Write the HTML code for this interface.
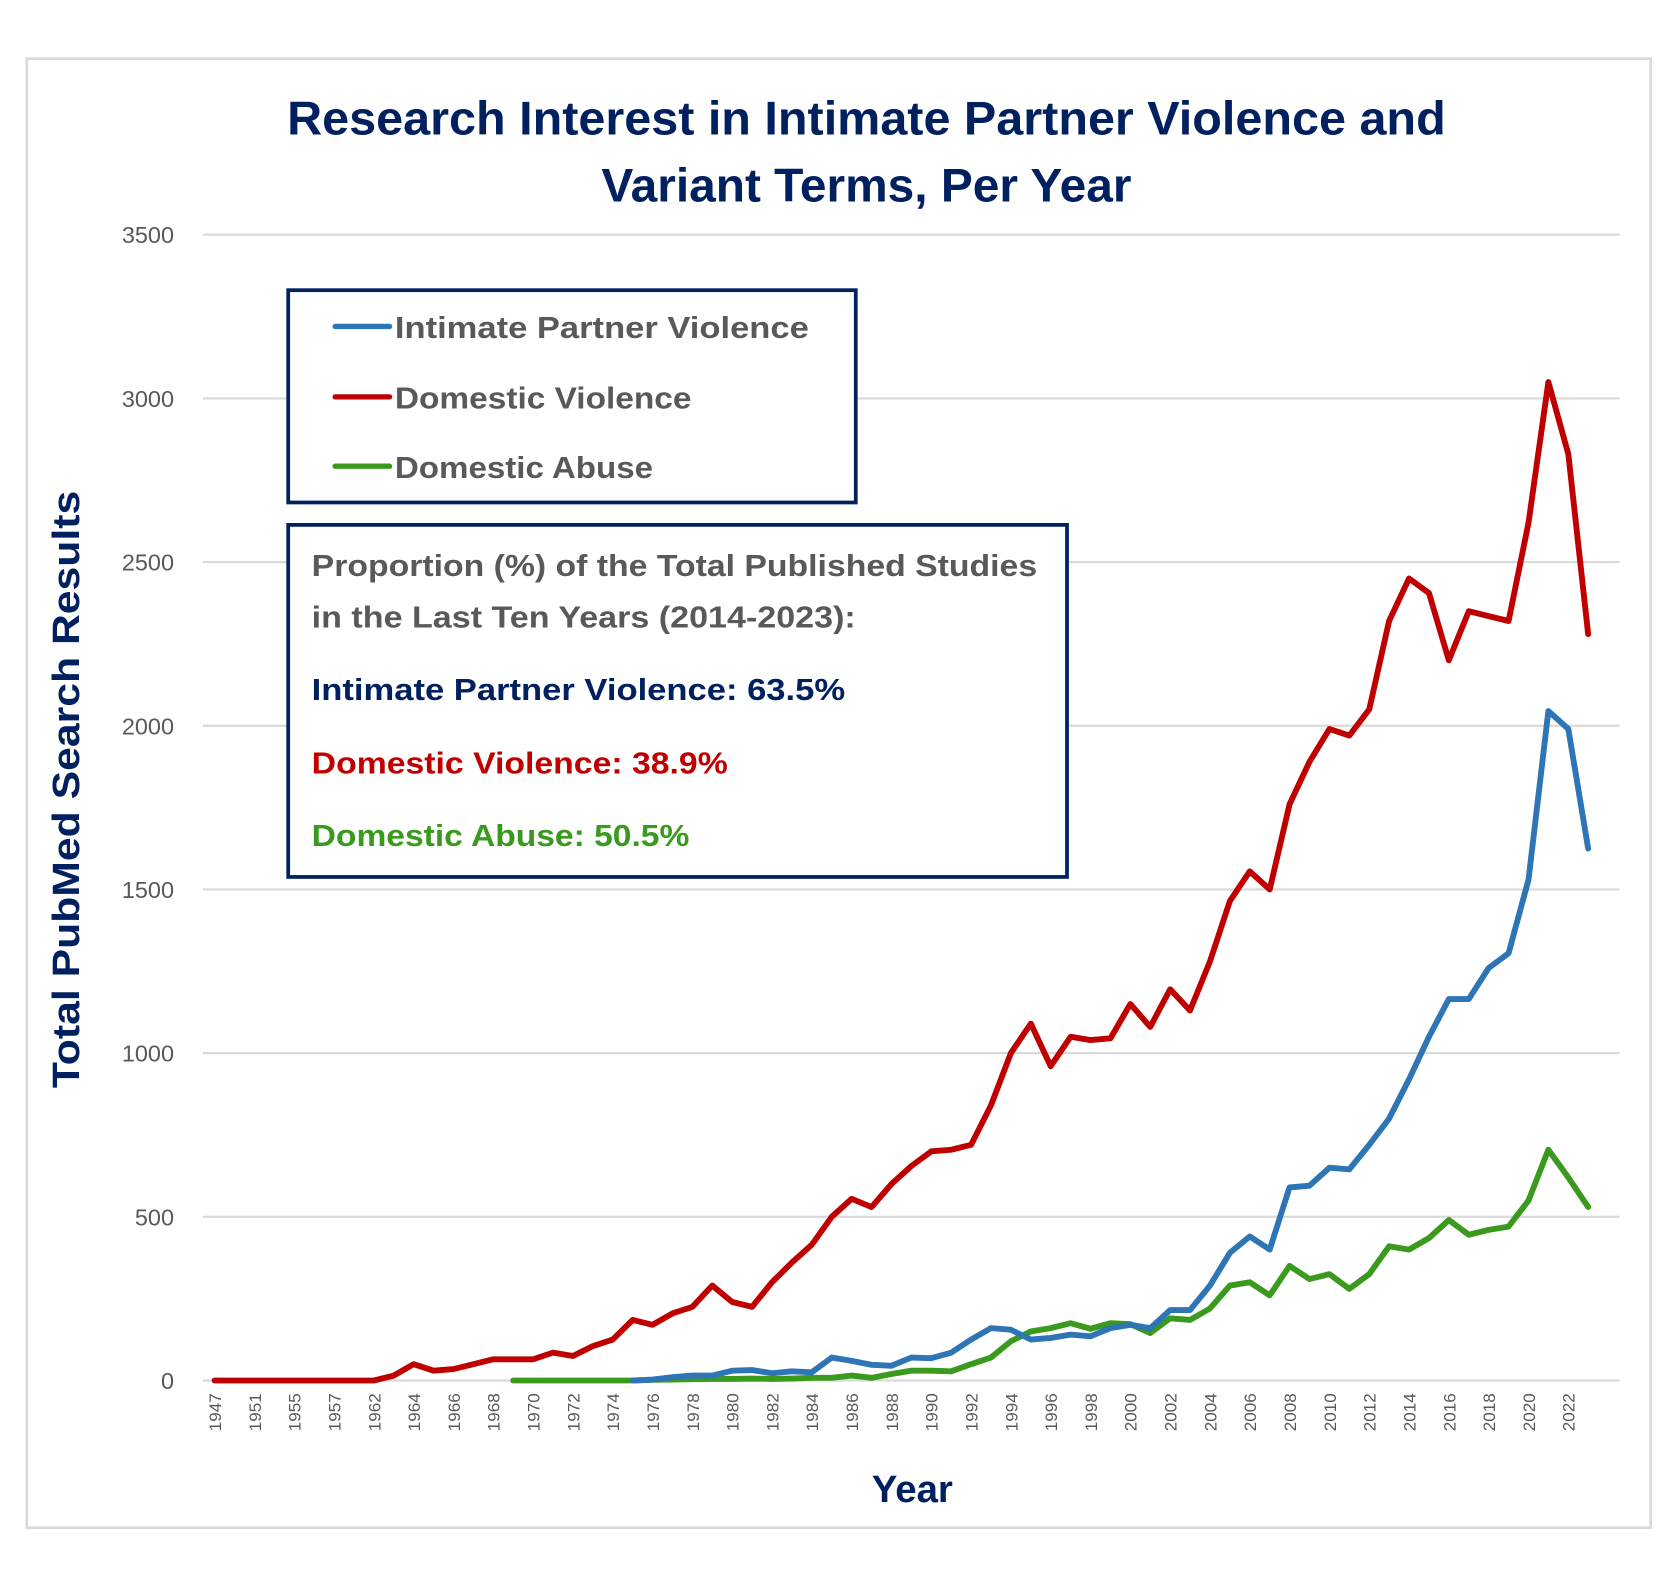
<!DOCTYPE html>
<html><head><meta charset="utf-8"><style>
html,body{margin:0;padding:0;background:#fff}
svg{display:block}
text{font-family:"Liberation Sans",sans-serif}
</style></head><body>
<svg id="s" width="1671" height="1596" viewBox="0 0 1566 1496" xmlns="http://www.w3.org/2000/svg">
<rect x="0" y="0" width="1566" height="1496" fill="#fff"/>
<rect x="25" y="55" width="1522" height="1377" fill="#fff" stroke="#d9d9d9" stroke-width="2.5"/>
<g font-weight="bold" fill="#002060" font-size="44" text-anchor="middle">
<text x="812" y="126" textLength="1086" lengthAdjust="spacingAndGlyphs">Research Interest in Intimate Partner Violence and</text>
<text x="812" y="189" textLength="497" lengthAdjust="spacingAndGlyphs">Variant Terms, Per Year</text>
</g>
<g id="grid" stroke="#d9d9d9" stroke-width="2"></g>
<g id="yl" fill="#595959" font-size="22" text-anchor="end"></g>
<g id="xl" fill="#595959" font-size="16" text-anchor="end"></g>
<text transform="translate(74,740) rotate(-90)" text-anchor="middle" font-weight="bold" font-size="36" fill="#002060" textLength="560" lengthAdjust="spacingAndGlyphs">Total PubMed Search Results</text>
<text x="855" y="1408" text-anchor="middle" font-weight="bold" font-size="36" fill="#002060">Year</text>
<g id="lines" fill="none" stroke-width="5.5" stroke-linejoin="round" stroke-linecap="round"></g>
<rect x="270" y="272" width="532" height="199" fill="#fff" stroke="#002060" stroke-width="3.5"/>
<g stroke-width="5" stroke-linecap="round">
<line x1="314" y1="306" x2="365" y2="306" stroke="#2E75B6"/>
<line x1="314" y1="372" x2="365" y2="372" stroke="#C00000"/>
<line x1="314" y1="437" x2="365" y2="437" stroke="#3A9A1E"/>
</g>
<g font-weight="bold" font-size="29" fill="#595959">
<text x="370" y="317" textLength="388" lengthAdjust="spacingAndGlyphs">Intimate Partner Violence</text>
<text x="370" y="383" textLength="278" lengthAdjust="spacingAndGlyphs">Domestic Violence</text>
<text x="370" y="448" textLength="242" lengthAdjust="spacingAndGlyphs">Domestic Abuse</text>
</g>
<rect x="270" y="492" width="730" height="330" fill="#fff" stroke="#002060" stroke-width="3.5"/>
<g font-weight="bold" font-size="29">
<text x="292" y="540" fill="#595959" textLength="680" lengthAdjust="spacingAndGlyphs">Proportion (%) of the Total Published Studies</text>
<text x="292" y="588" fill="#595959" textLength="510" lengthAdjust="spacingAndGlyphs">in the Last Ten Years (2014-2023):</text>
<text x="292" y="656" fill="#002060" textLength="500" lengthAdjust="spacingAndGlyphs">Intimate Partner Violence: 63.5%</text>
<text x="292" y="725" fill="#C00000" textLength="390" lengthAdjust="spacingAndGlyphs">Domestic Violence: 38.9%</text>
<text x="292" y="793" fill="#3A9A1E" textLength="354" lengthAdjust="spacingAndGlyphs">Domestic Abuse: 50.5%</text>
</g>
</svg>
<script>
var NS="http://www.w3.org/2000/svg";
function el(p,t,a,txt){var e=document.createElementNS(NS,t);for(var k in a)e.setAttribute(k,a[k]);if(txt!=null)e.textContent=txt;document.getElementById(p).appendChild(e);return e;}
function Y(v){return 1294-v*0.30686;}
function X(i){return 201+18.66*i;}
for(var v=0;v<=3500;v+=500){el("grid","line",{x1:190,x2:1518,y1:Y(v),y2:Y(v)});el("yl","text",{x:163,y:Y(v)+8},String(v));}
var labs=["1947","1951","1955","1957","1962"];
for(var y=1964;y<=2022;y+=2)labs.push(String(y));
labs.forEach(function(l,j){var x=X(j*2)+6;el("xl","text",{transform:"translate("+x+",1306) rotate(-90)"},l);});
function idx(y){return 8+(y-1962);}
var red=[0,0,0,0,0,0,0,0,0,15,50,30,35,50,65,65,65,85,75,105,125,185,170,205,225,290,240,225,300,360,415,500,555,530,600,655,700,705,720,840,1000,1090,960,1050,1040,1045,1150,1080,1195,1130,1280,1465,1555,1500,1760,1890,1990,1970,2050,2320,2450,2405,2200,2350,2335,2320,2620,3050,2830,2280];
var blue=[0,3,10,15,15,30,32,22,28,25,70,60,48,45,70,68,85,125,160,155,125,130,140,135,160,170,160,215,215,290,390,440,400,590,595,650,645,720,800,920,1050,1165,1165,1260,1305,1530,2045,1990,1625];
var green=[0,0,0,0,0,0,0,2,3,4,5,5,6,5,6,8,8,15,8,20,30,30,28,50,70,120,150,160,175,158,175,172,145,190,185,220,290,300,260,350,310,325,280,325,410,400,435,490,445,460,470,550,705,620,530];
function path(d,start,col){var s="";d.forEach(function(v,k){s+=(k?"L":"M")+X(start+k).toFixed(1)+","+Y(v).toFixed(1);});el("lines","path",{d:s,stroke:col});}
path(green,idx(1969),"#3A9A1E");
path(blue,idx(1975),"#2E75B6");
path(red,0,"#C00000");
</script>
</body></html>
